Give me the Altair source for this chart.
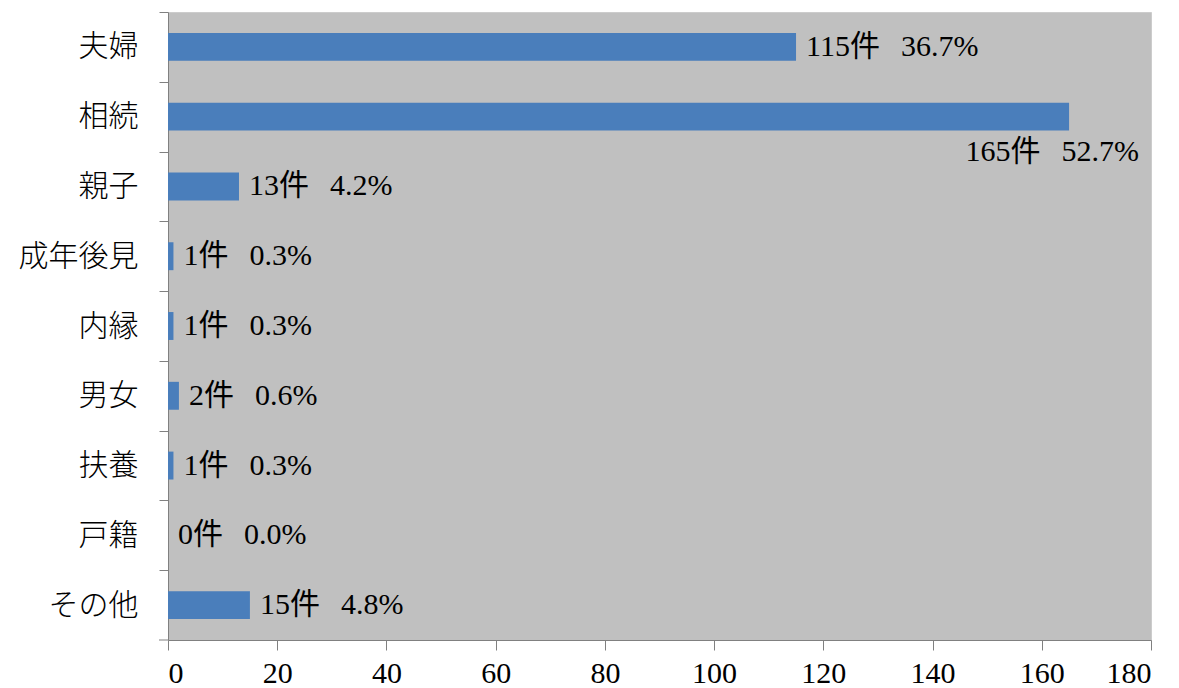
import altair as alt
import pandas as pd

categories = ["夫婦", "相続", "親子", "成年後見", "内縁", "男女", "扶養", "戸籍", "その他"]
counts = [115, 165, 13, 1, 1, 2, 1, 0, 15]
percents = [36.7, 52.7, 4.2, 0.3, 0.3, 0.6, 0.3, 0.0, 4.8]
x_ticks = [0, 20, 40, 60, 80, 100, 120, 140, 160, 180]

labels = [f"{c}件\u2002\u2009{p:.1f}%" for c, p in zip(counts, percents)]
df = pd.DataFrame({"category": categories, "count": counts, "label": labels})

max_cat = categories[counts.index(max(counts))]

PLOT_H = 628
step = PLOT_H / len(categories)

x_enc = alt.X(
    "count:Q",
    scale=alt.Scale(domain=[0, 180], nice=False, zero=True),
    axis=alt.Axis(
        values=x_ticks, title=None, grid=False,
        domainColor="#808080", tickColor="#808080", tickSize=10,
        labelPadding=8, labelFont="Liberation Serif", labelFontSize=30,
        labelColor="#000000",
    ),
)
y_enc = alt.Y(
    "category:N",
    sort=categories,
    scale=alt.Scale(paddingInner=0.6, paddingOuter=0.3),
    axis=alt.Axis(
        title=None, grid=False, tickOffset=-step / 2, labelOffset=step / 2,
        domainColor="#808080", tickColor="#808080", tickSize=9,
        labelPadding=21, labelFont="Noto Sans CJK JP", labelFontSize=30,
        labelFontWeight=300, labelColor="#000000",
    ),
)

base = alt.Chart(df)

bars = base.mark_bar(color="#4a7ebb").encode(x=x_enc, y=y_enc)

text_font = "Liberation Serif, Noto Sans CJK JP"

side_labels = base.transform_filter(
    alt.datum.category != max_cat
).mark_text(
    align="left", baseline="middle", dx=10, font=text_font, fontSize=30, color="#000000"
).encode(x="count:Q", y=alt.Y("category:N", sort=categories), text="label:N")

below_label = base.transform_filter(
    alt.datum.category == max_cat
).mark_text(
    align="right", baseline="middle", dx=70, dy=35, font=text_font, fontSize=30, color="#000000"
).encode(x="count:Q", y=alt.Y("category:N", sort=categories), text="label:N")

bottom_tick = alt.Chart(pd.DataFrame({"v": [0]})).mark_rule(color="#808080").encode(
    x=alt.value(-9), x2=alt.value(0), y=alt.value(PLOT_H)
)

chart = alt.layer(bars, side_labels, below_label, bottom_tick).properties(
    width=983,
    height=PLOT_H,
    autosize=alt.AutoSizeParams(type="none"),
    padding={"left": 160, "top": 4, "right": 20, "bottom": 48},
).configure(background="#ffffff").configure_view(
    fill="#c0c0c0", stroke="#cccccc"
)

chart.save("out.html", embed_options={"renderer": "svg", "actions": False})
